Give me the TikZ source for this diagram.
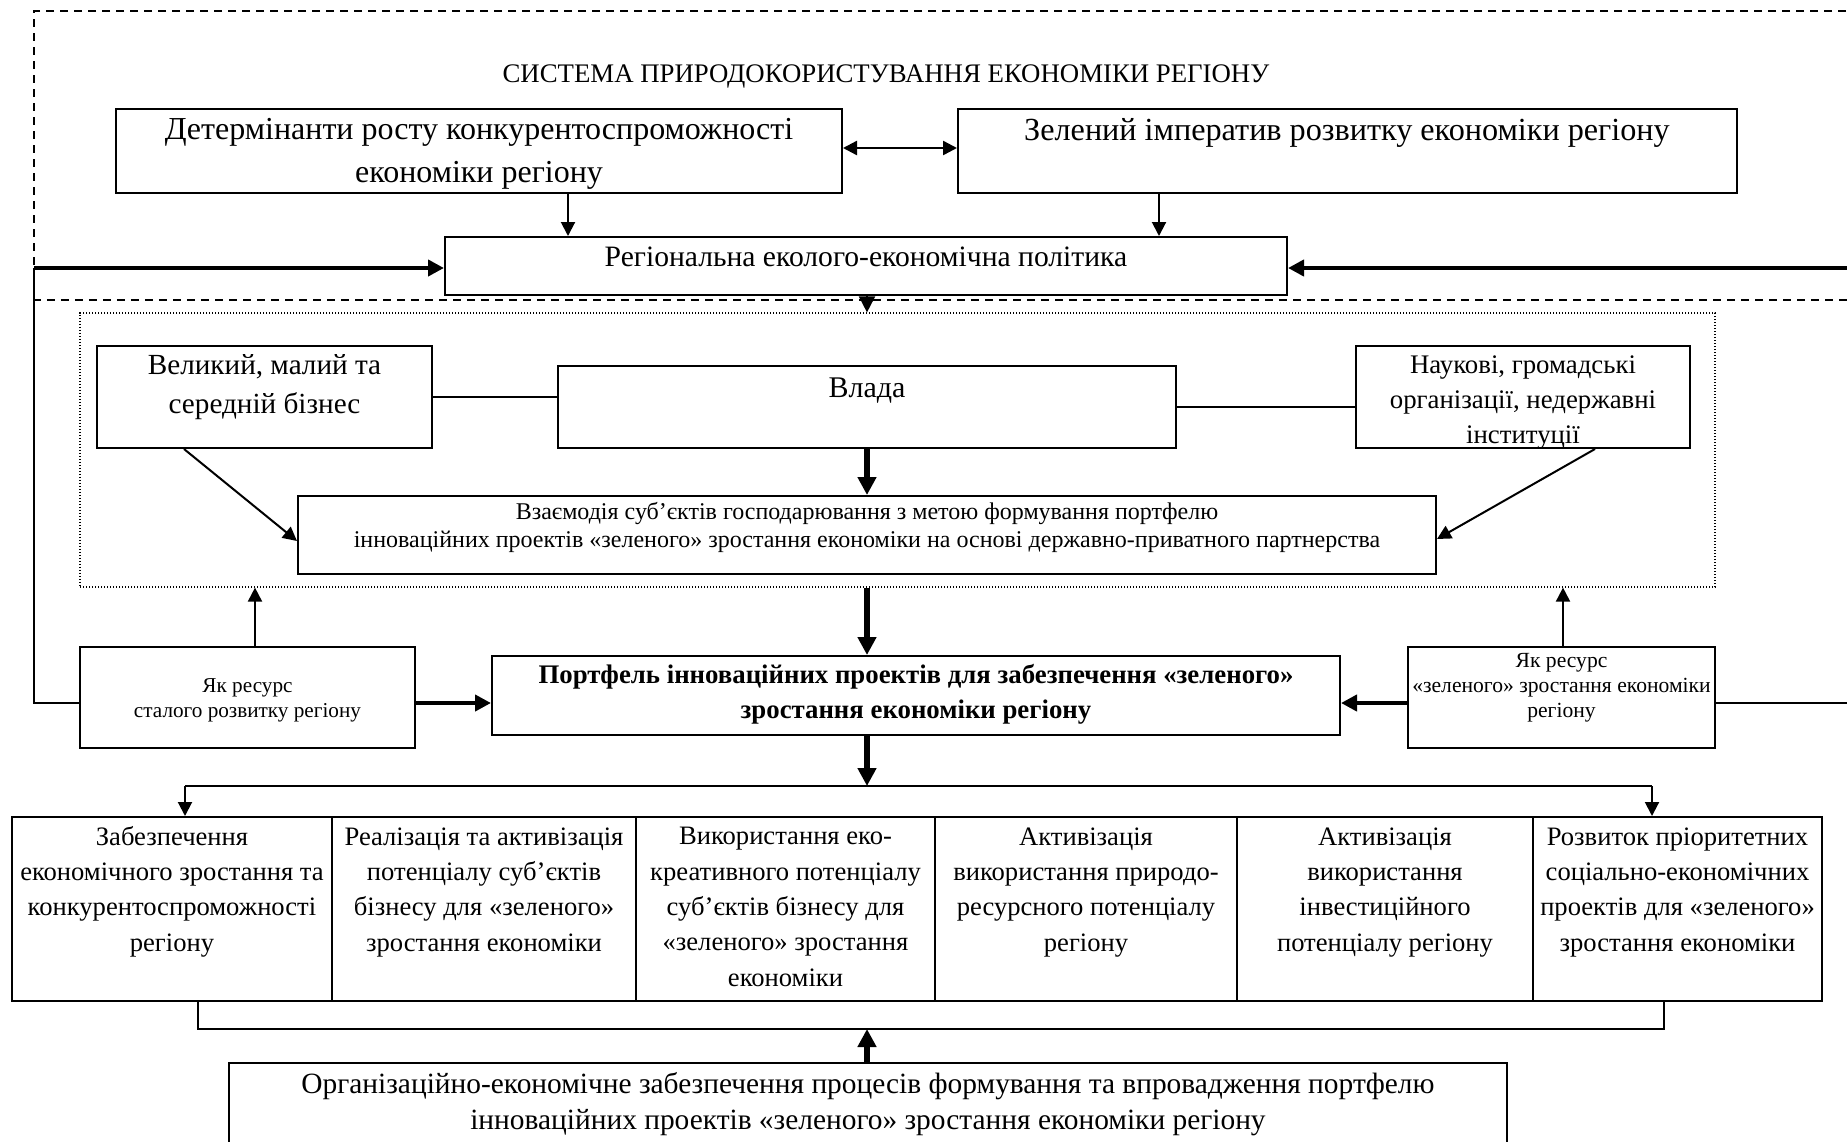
\documentclass[tikz,border=0pt]{standalone}
\usepackage{fontspec}
\setmainfont{Liberation Serif}
\usetikzlibrary{fit,arrows.meta,calc}
\newcommand\myfs[2]{\fontsize{#1pt}{#2pt}\selectfont}
\begin{document}
\begin{tikzpicture}[x=0.5pt,y=-0.5pt,
  box/.style={draw, line width=1pt, inner sep=0pt},
  txt/.style={inner sep=0pt, align=center, anchor=base},
  thinarr/.style={line width=1pt, -{Triangle[length=7pt,width=7pt]}},
  medarr/.style={line width=2pt, -{Triangle[length=8pt,width=8pt]}},
  thickarr/.style={line width=3pt, -{Triangle[length=9pt,width=9pt]}},
  thinline/.style={line width=1pt},
  dashline/.style={line width=1pt, dash pattern=on 4pt off 3pt},
  dotbox/.style={draw, line width=0.6pt, dash pattern=on 0.6pt off 0.9pt, inner sep=0pt}]
\fill[white] (0,0) rectangle (1847,1141);
\clip (0,0) rectangle (1847,1141);

% outer dashed frame
\draw[dashline] (1860,11) -- (34,11) -- (34,300) -- (1860,300);
\node[txt, font=\myfs{13.4}{16}] (title) at (886,82) {СИСТЕМА ПРИРОДОКОРИСТУВАННЯ ЕКОНОМІКИ РЕГІОНУ};

% top boxes
\node[box, fit={(116,109) (842,193)}] (det) {};
\node[box, fit={(958,109) (1737,193)}] (zel) {};
\node[box, fit={(445,237) (1287,295)}] (reg) {};
\node[txt, font=\myfs{16}{21.5}] (tdet) at (479,182) {Детермінанти росту конкурентоспроможності\\економіки регіону};
\node[txt, font=\myfs{16.1}{20}] (tzel) at (1347,140) {Зелений імператив розвитку економіки регіону};
\node[txt, font=\myfs{14.8}{18}] (treg) at (866,266) {Регіональна еколого-економічна політика};

% dotted block
\node[dotbox, fit={(80,313) (1715,587)}] (dot) {};
\node[box, fit={(97,346) (432,448)}] (vel) {};
\node[box, fit={(558,366) (1176,448)}] (vlada) {};
\node[box, fit={(1356,346) (1690,448)}] (nauk) {};
\node[box, fit={(298,496) (1436,574)}] (vzaem) {};
\node[txt, font=\myfs{14.6}{19.5}] (tvel) at (264.5,413) {Великий, малий та\\середній бізнес};
\node[txt, font=\myfs{15}{18}] (tvlada) at (867,397) {Влада};
\node[txt, font=\myfs{13.4}{17.5}] (tnauk) at (1523,443) {Наукові, громадські\\організації, недержавні\\інституції};
\node[txt, font=\myfs{12}{14}] (tvzaem) at (867,547) {Взаємодія суб’єктів господарювання з метою формування портфелю\\інноваційних проектів «зеленого» зростання економіки на основі державно-приватного партнерства};

% middle row
\node[box, fit={(80,647) (415,748)}] (yakl) {};
\node[box, fit={(492,656) (1340,735)}] (port) {};
\node[box, fit={(1408,647) (1715,748)}] (yakr) {};
\node[txt, font=\myfs{10.6}{12.5}] (tyakl) at (247.5,717) {Як ресурс\\сталого розвитку регіону};
\node[txt, font=\bfseries\myfs{13.4}{17.5}] (tport) at (916,718) {Портфель інноваційних проектів для забезпечення «зеленого»\\зростання економіки регіону};
\node[txt, font=\myfs{10.8}{12.5}] (tyakr) at (1561.5,717) {Як ресурс\\«зеленого» зростання економіки\\регіону};

% bottom row
\node[box, fit={(12,817) (332,1001)}] (r1) {};
\node[box, fit={(332,817) (636,1001)}] (r2) {};
\node[box, fit={(636,817) (935,1001)}] (r3) {};
\node[box, fit={(935,817) (1237,1001)}] (r4) {};
\node[box, fit={(1237,817) (1533,1001)}] (r5) {};
\node[box, fit={(1533,817) (1822,1001)}] (r6) {};
\tikzset{rowtxt/.style={txt, font=\myfs{13.3}{17.65}}}
\node[rowtxt] (tr1) at (172,951) {Забезпечення\\економічного зростання та\\конкурентоспроможності\\регіону};
\node[rowtxt] (tr2) at (484,951) {Реалізація та активізація\\потенціалу суб’єктів\\бізнесу для «зеленого»\\зростання економіки};
\node[rowtxt] (tr3) at (785.5,986) {Використання еко-\\креативного потенціалу\\суб’єктів бізнесу для\\«зеленого» зростання\\економіки};
\node[rowtxt] (tr4) at (1086,951) {Активізація\\використання природо-\\ресурсного потенціалу\\регіону};
\node[rowtxt] (tr5) at (1385,951) {Активізація\\використання\\інвестиційного\\потенціалу регіону};
\node[rowtxt] (tr6) at (1677.5,951) {Розвиток пріоритетних\\соціально-економічних\\проектів для «зеленого»\\зростання економіки};

\node[box, fit={(229,1063) (1507,1160)}] (org) {};
\node[txt, font=\myfs{14.7}{18}] (torg) at (868,1129) {Організаційно-економічне забезпечення процесів формування та впровадження портфелю\\інноваційних проектів «зеленого» зростання економіки регіону};

% helper coordinates
\coordinate (xA) at (568,0);
\coordinate (xB) at (1159,0);
\coordinate (xM) at (867,0);
\coordinate (xYL) at (255,0);
\coordinate (xYR) at (1563,0);
\coordinate (cL) at (34,268);
\coordinate (cR) at (1860,268);
\coordinate (cLb) at (34,703);
\coordinate (cRb) at (1860,703);
\coordinate (dL) at (185,786);
\coordinate (dR) at (1652,786);
\coordinate (bL) at (198,1029);
\coordinate (bR) at (1664,1029);

% connectors
\draw[line width=1.2pt, {Triangle[length=7pt,width=7pt]}-{Triangle[length=7pt,width=7pt]}] (det.east |- 0,148) -- (zel.west |- 0,148);
\draw[thinarr] (xA |- det.south) -- (xA |- reg.north);
\draw[thinarr] (xB |- zel.south) -- (xB |- reg.north);
\draw[medarr] (cL) -- (cL -| reg.west);
\draw[medarr] (cR) -- (cR -| reg.east);
\draw[line width=1pt, -{Triangle[length=8pt,width=8pt]}] (xM |- reg.south) -- (xM |- dot.north);

\draw[thinline] (vel.east) -- (vel.east -| vlada.west);
\draw[thinline] (vlada.east) -- (vlada.east -| nauk.west);
\draw[thickarr] (xM |- vlada.south) -- (xM |- vzaem.north);
\draw[thinarr] ($(vel.south west)+(88,0)$) -- ($(vzaem.north west)+(0,46)$);
\draw[thinarr] ($(nauk.south west)+(240,0)$) -- ($(vzaem.north east)+(0,44)$);

\draw[thickarr] (xM |- dot.south) -- (xM |- port.north);
\draw[thinarr] (xYL |- yakl.north) -- (xYL |- dot.south);
\draw[thinarr] (xYR |- yakr.north) -- (xYR |- dot.south);
\draw[medarr] (yakl.east |- cLb) -- (port.west |- cLb);
\draw[medarr] (yakr.west |- cLb) -- (port.east |- cLb);
\draw[thinline] (yakl.west |- cLb) -- (cLb) -- (cL);
\draw[thinline] (yakr.east |- cRb) -- (cRb);

\draw[thickarr] (xM |- port.south) -- (xM |- dL);
\draw[thinline] (dL) -- (dR);
\draw[thinarr] (dL) -- (dL |- r1.north);
\draw[thinarr] (dR) -- (dR |- r6.north);
\draw[thinline] (bL |- r1.south) -- (bL) -- (bR) -- (bR |- r6.south);
\draw[thickarr] (xM |- org.north) -- (xM |- bL);
\end{tikzpicture}
\end{document}
